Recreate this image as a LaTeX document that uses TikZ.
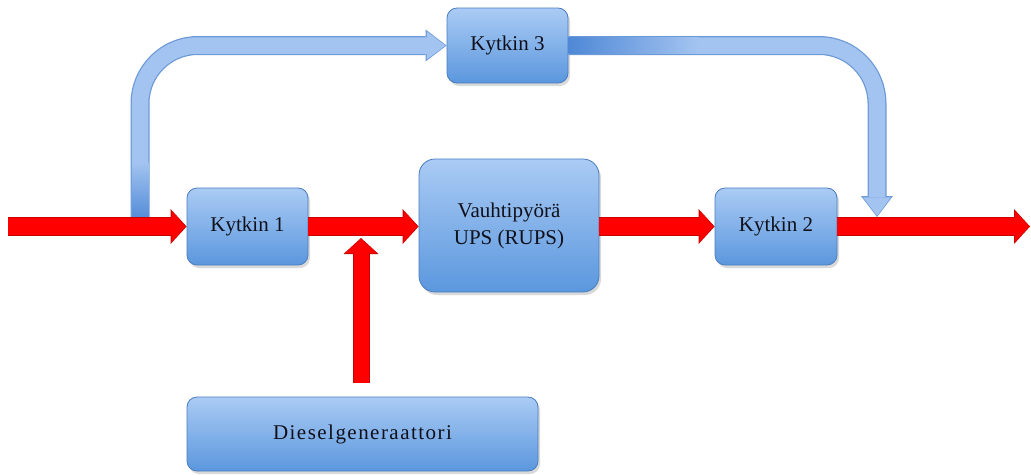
\documentclass[tikz,border=0pt]{standalone}
\usepackage{fontspec}
\setmainfont{Liberation Serif}
\newfontfamily\boxfont{Liberation Serif}
\usetikzlibrary{arrows.meta,shadows}
\definecolor{boxtop}{HTML}{AACBF4}
\definecolor{boxbot}{HTML}{5B97DE}
\definecolor{boxrim}{HTML}{4A7DBF}
\definecolor{pipe}{HTML}{A3C4F0}
\definecolor{pipedark}{HTML}{4F88D6}
\definecolor{piperim}{HTML}{6C9AD6}
\definecolor{feedred}{HTML}{FF0000}
\definecolor{feedrim}{HTML}{C80000}
\definecolor{txt}{HTML}{10101A}

\begin{document}
\begin{tikzpicture}[x=1pt,y=-1pt,
  blok/.style={draw=boxrim,line width=0.8pt,rounded corners=10pt,
    top color=boxtop,bottom color=boxbot,
    drop shadow={opacity=0.3,shadow xshift=2pt,shadow yshift=-3pt},
    text=txt,font=\boxfont\fontsize{21}{27}\selectfont,align=center,inner sep=0pt},
  redrim/.style={draw=feedrim,line width=19pt,
    -{Triangle[length=16pt,width=35pt,line width=0pt]}},
  redfill/.style={draw=feedred,line width=17pt,shorten >=1pt,
    -{Triangle[length=14pt,width=31pt,line width=0pt]}},
  bluerim/.style={draw=piperim,line width=19pt,rounded corners=58pt,
    -{Triangle[length=21pt,width=32pt,line width=0pt]}},
  bluefill/.style={draw=pipe,line width=16.5pt,rounded corners=58pt,shorten >=1.2pt,
    -{Triangle[length=18.5pt,width=28pt,line width=0pt]}}]
  \useasboundingbox (0,0) rectangle (1031,474);

  \node[blok,minimum width=121pt,minimum height=77pt] (k1) at (247.5,226.5) {Kytkin 1};
  \node[blok,minimum width=121pt,minimum height=75pt] (k3) at (507.5,45.5) {Kytkin 3};
  \node[blok,minimum width=180pt,minimum height=133pt,rounded corners=16pt] (rups) at (509,225.5) {Vauhtipyörä\\UPS (RUPS)};
  \node[blok,minimum width=122pt,minimum height=77pt] (k2) at (776,226.5) {Kytkin 2};
  \node[blok,minimum width=351pt,minimum height=74pt] (diesel) at (362.5,434) {\addfontfeature{LetterSpace=7}Dieselgeneraattori};

  \coordinate (in) at (8,226.5);
  \coordinate (out) at (1030,226.5);
  \coordinate (split) at (140,222);
  \coordinate (join) at (877,217);
  \coordinate (feed) at (361,238);

  \draw[bluerim] (split) |- (k3.west);
  \draw[bluefill] (split) |- (k3.west);
  \shade[bottom color=pipedark,top color=pipe] ([xshift=-8.25pt]split) rectangle ([xshift=8.25pt,yshift=60pt]split);
  \draw[bluerim] (k3.east) -| (join);
  \draw[bluefill] (k3.east) -| (join);
  \shade[left color=pipedark,right color=pipe] ([yshift=-8.25pt]k3.east) rectangle ([xshift=130pt,yshift=8.25pt]k3.east);

  \foreach \a/\b in {in/k1.west, k1.east/k1.east -| rups.west, k2.west -| rups.east/k2.west, k2.east/out} {
    \draw[redrim] (\a) -- (\b);
    \draw[redfill] (\a) -- (\b);
  }
  \draw[redrim,line width=17pt,shorten <=14pt] (diesel.north -| feed) -- (feed);
  \draw[redfill,line width=15pt,shorten <=14pt] (diesel.north -| feed) -- (feed);
\end{tikzpicture}
\end{document}
